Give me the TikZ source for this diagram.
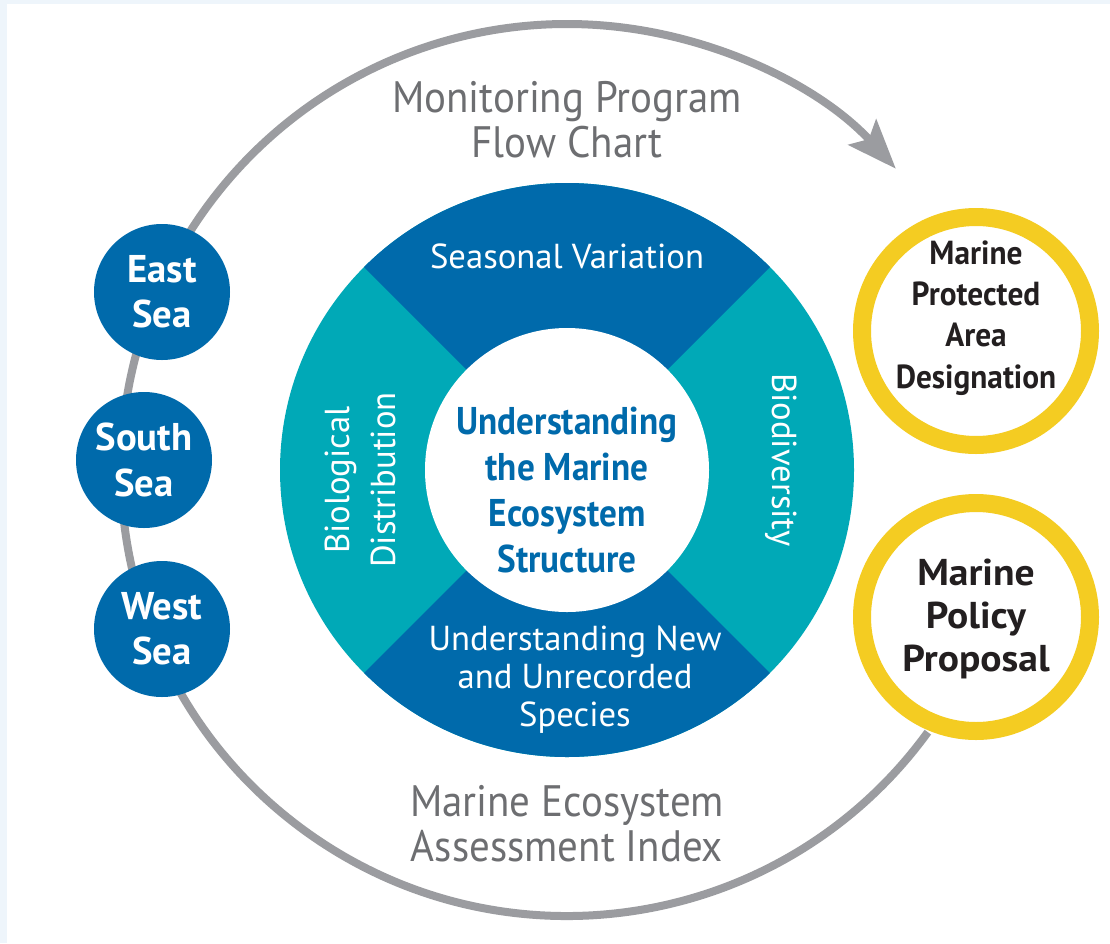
\documentclass[tikz,border=0pt]{standalone}
\usepackage{fontspec}
\setmainfont{PT Sans}
\newfontfamily\narrowsans[FakeStretch=0.91]{PT Sans}
\newfontfamily\ringsans[FakeStretch=0.93]{PT Sans}
\newfontfamily\goalsans[FakeStretch=0.94]{PT Sans}
\newfontfamily\widesans[FakeStretch=1.06]{PT Sans}
\usetikzlibrary{arrows.meta}

\definecolor{seablue}{HTML}{006AAB}
\definecolor{reefteal}{HTML}{00A9B7}
\definecolor{ringgray}{HTML}{9B9CA0}
\definecolor{txtgray}{HTML}{6D6E71}
\definecolor{gold}{HTML}{F4CC22}
\definecolor{ink}{HTML}{231F20}
\definecolor{pale}{HTML}{EEF5FB}

\begin{document}
\begin{tikzpicture}[x=0.75pt,y=0.75pt,yscale=-1,xscale=1,
    seanode/.style={circle, fill=seablue, minimum size=102pt, inner sep=0pt, text=white, align=center, font=\bfseries\fontsize{29}{34}\selectfont},
    goalring/.style={circle, draw=gold, line width=13.5pt, fill=white, minimum size=171pt, inner sep=0pt},
    goaltext/.style={text=ink, align=center, font=\goalsans\bfseries\fontsize{25}{31}\selectfont},
    sectortext/.style={text=white, align=center, font=\fontsize{26}{28.5}\selectfont},
    ringtext/.style={text=txtgray, align=center, font=\ringsans\fontsize{33}{34}\selectfont}]
    %uncomment if require: \path (0,943); %set diagram left start at 0, and has height of 943

    %Background
    \fill[pale] (0,0) rectangle (1110,943);
    \fill[white] (7,4) rectangle (1110,943);
    \useasboundingbox (0,0) rectangle (1110,943);

    %Outer flow ring with arrow
    \draw[ringgray, line width=6pt, -{Stealth[length=37pt, width=28pt, inset=7pt]}] (567,470) ++(36:446) arc[start angle=36, end angle=317.5, radius=446];

    %Disk: teal sides, blue top and bottom
    \fill[reefteal] (567,470) circle (287);
    \fill[seablue] (567,470) -- ++(-135:287) arc[start angle=-135, end angle=-45, radius=287] -- cycle;
    \fill[seablue] (567,470) -- ++(45:287) arc[start angle=45, end angle=135, radius=287] -- cycle;
    \node[circle, fill=white, minimum size=213pt, inner sep=0pt] (hub) at (567,470) {};

    %Ring labels
    \node[ringtext] (flowlabel) at (567,120) {Monitoring Program\\Flow Chart};
    \node[ringtext] (indexlabel) at (567,824) {Marine Ecosystem\\Assessment Index};

    %Sector labels
    \node[sectortext] (seasonal) at (567,256) {Seasonal Variation};
    \node[sectortext] (species) at (575,680) {Understanding New\\and Unrecorded\\Species};
    \node[sectortext, rotate=90, font=\fontsize{26}{34.5}\selectfont] (distrib) at (360,480) {Biological\\Distribution};
    \node[sectortext, rotate=-90] (biodiv) at (781,460) {Biodiversity};
    \node[text=seablue, align=center, font=\narrowsans\bfseries\fontsize{29}{34.5}\selectfont] (hubtext) at (567,490) {Understanding\\the Marine\\Ecosystem\\Structure};

    %Seas
    \node[seanode] (east) at (162,292) {East\\Sea};
    \node[seanode] (south) at (144,460) {South\\Sea};
    \node[seanode] (west) at (162,629) {West\\Sea};

    %Outcomes
    \node[goalring] (mpa) at (976,331) {};
    \node[goaltext] (mpatext) at (976,318) {Marine\\Protected\\Area\\Designation};
    \node[goalring] (policy) at (976,617) {};
    \node[goaltext, font=\widesans\bfseries\fontsize{28}{32}\selectfont] (policytext) at (976,619) {Marine\\Policy\\Proposal};

\end{tikzpicture}
\end{document}
